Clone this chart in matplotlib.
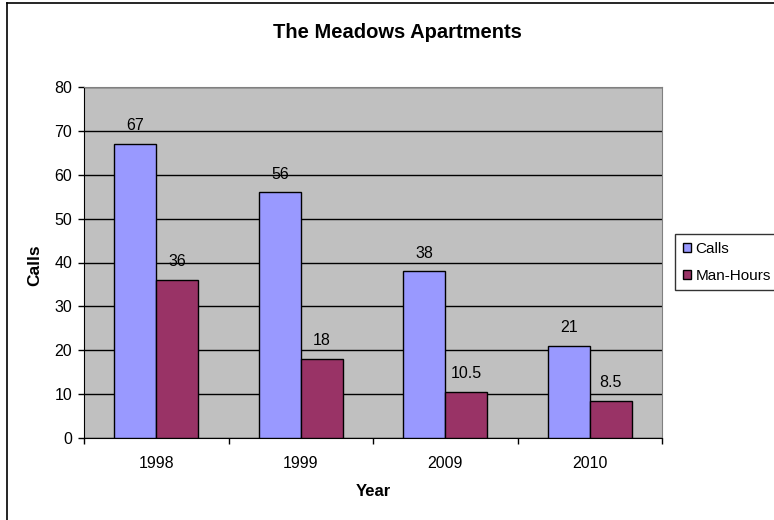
import numpy as np
import matplotlib
matplotlib.use("Agg")
import matplotlib.pyplot as plt
from matplotlib.patches import Patch
from matplotlib.lines import Line2D

plt.rcParams['font.family'] = ['Liberation Sans', 'DejaVu Sans']

# data
years = ['1998', '1999', '2009', '2010']
calls = [67, 56, 38, 21]
man_hours = [36, 18, 10.5, 8.5]

c_calls = '#9999FF'
c_hours = '#993366'

fig = plt.figure(figsize=(7.74, 5.2), dpi=100)
ax = fig.add_axes([84 / 774, 1 - 438 / 520, (662 - 84) / 774, (438 - 87) / 520])
ax.set_facecolor('#C0C0C0')

x = np.arange(len(years))
w = 0.29
b1 = ax.bar(x - w / 2, calls, w, color=c_calls, edgecolor='black', linewidth=1, zorder=3)
b2 = ax.bar(x + w / 2, man_hours, w, color=c_hours, edgecolor='black', linewidth=1, zorder=3)

# data labels above the bars
for bars, vals in ((b1, calls), (b2, man_hours)):
    for r, v in zip(bars, vals):
        ax.annotate('%g' % v, (r.get_x() + r.get_width() / 2, v), xytext=(0, 13),
                    textcoords='offset points', ha='center', va='center', fontsize=11.5)

ax.set_xlim(-0.5, len(years) - 0.5)
ax.set_ylim(0, 80)
ax.set_yticks(np.arange(0, 81, 10))
ax.yaxis.grid(True, color='black', linewidth=1)
ax.set_axisbelow(True)

ax.set_xticks(x)
ax.set_xticklabels(years)
ax.set_xticks(np.arange(-0.5, len(years), 1), minor=True)
ax.tick_params(axis='x', which='major', length=0, pad=13, labelsize=11.5)
ax.tick_params(axis='x', which='minor', length=4.5, width=1, direction='out')
ax.tick_params(axis='y', length=4.5, width=1, direction='out', pad=4, labelsize=11.5)

for s in ('top', 'right'):
    ax.spines[s].set_color('#808080')
for s in ('left', 'bottom'):
    ax.spines[s].set_color('black')

fig.text(397 / 774, 1 - 32 / 520, 'The Meadows Apartments', ha='center', va='center',
         fontsize=14.5, fontweight='bold')
fig.text(373 / 774, 1 - 492 / 520, 'Year', ha='center', va='center', fontsize=12, fontweight='bold')
fig.text(35 / 774, 1 - 265 / 520, 'Calls', ha='center', va='center', fontsize=12.5,
         fontweight='bold', rotation=90)

handles = [Patch(facecolor=c_calls, edgecolor='black', label='Calls'),
           Patch(facecolor=c_hours, edgecolor='black', label='Man-Hours')]
leg = fig.legend(handles=handles, loc='upper left', bbox_to_anchor=(675 / 774, 1 - 234 / 520),
                 fontsize=11, frameon=True, fancybox=False, shadow=False,
                 handlelength=0.55, handleheight=0.55, handletextpad=0.3,
                 borderpad=0.5, labelspacing=0.85, borderaxespad=0)
leg.get_frame().set_edgecolor('black')
leg.get_frame().set_linewidth(1)

# chart area border (cut off at right and bottom in the original)
fig.add_artist(Line2D([7 / 774, 7 / 774], [0, 1 - 3 / 520], color='black', linewidth=1.2))
fig.add_artist(Line2D([7 / 774, 1], [1 - 3 / 520, 1 - 3 / 520], color='black', linewidth=1.2))

fig.savefig('out.png', dpi=100)
